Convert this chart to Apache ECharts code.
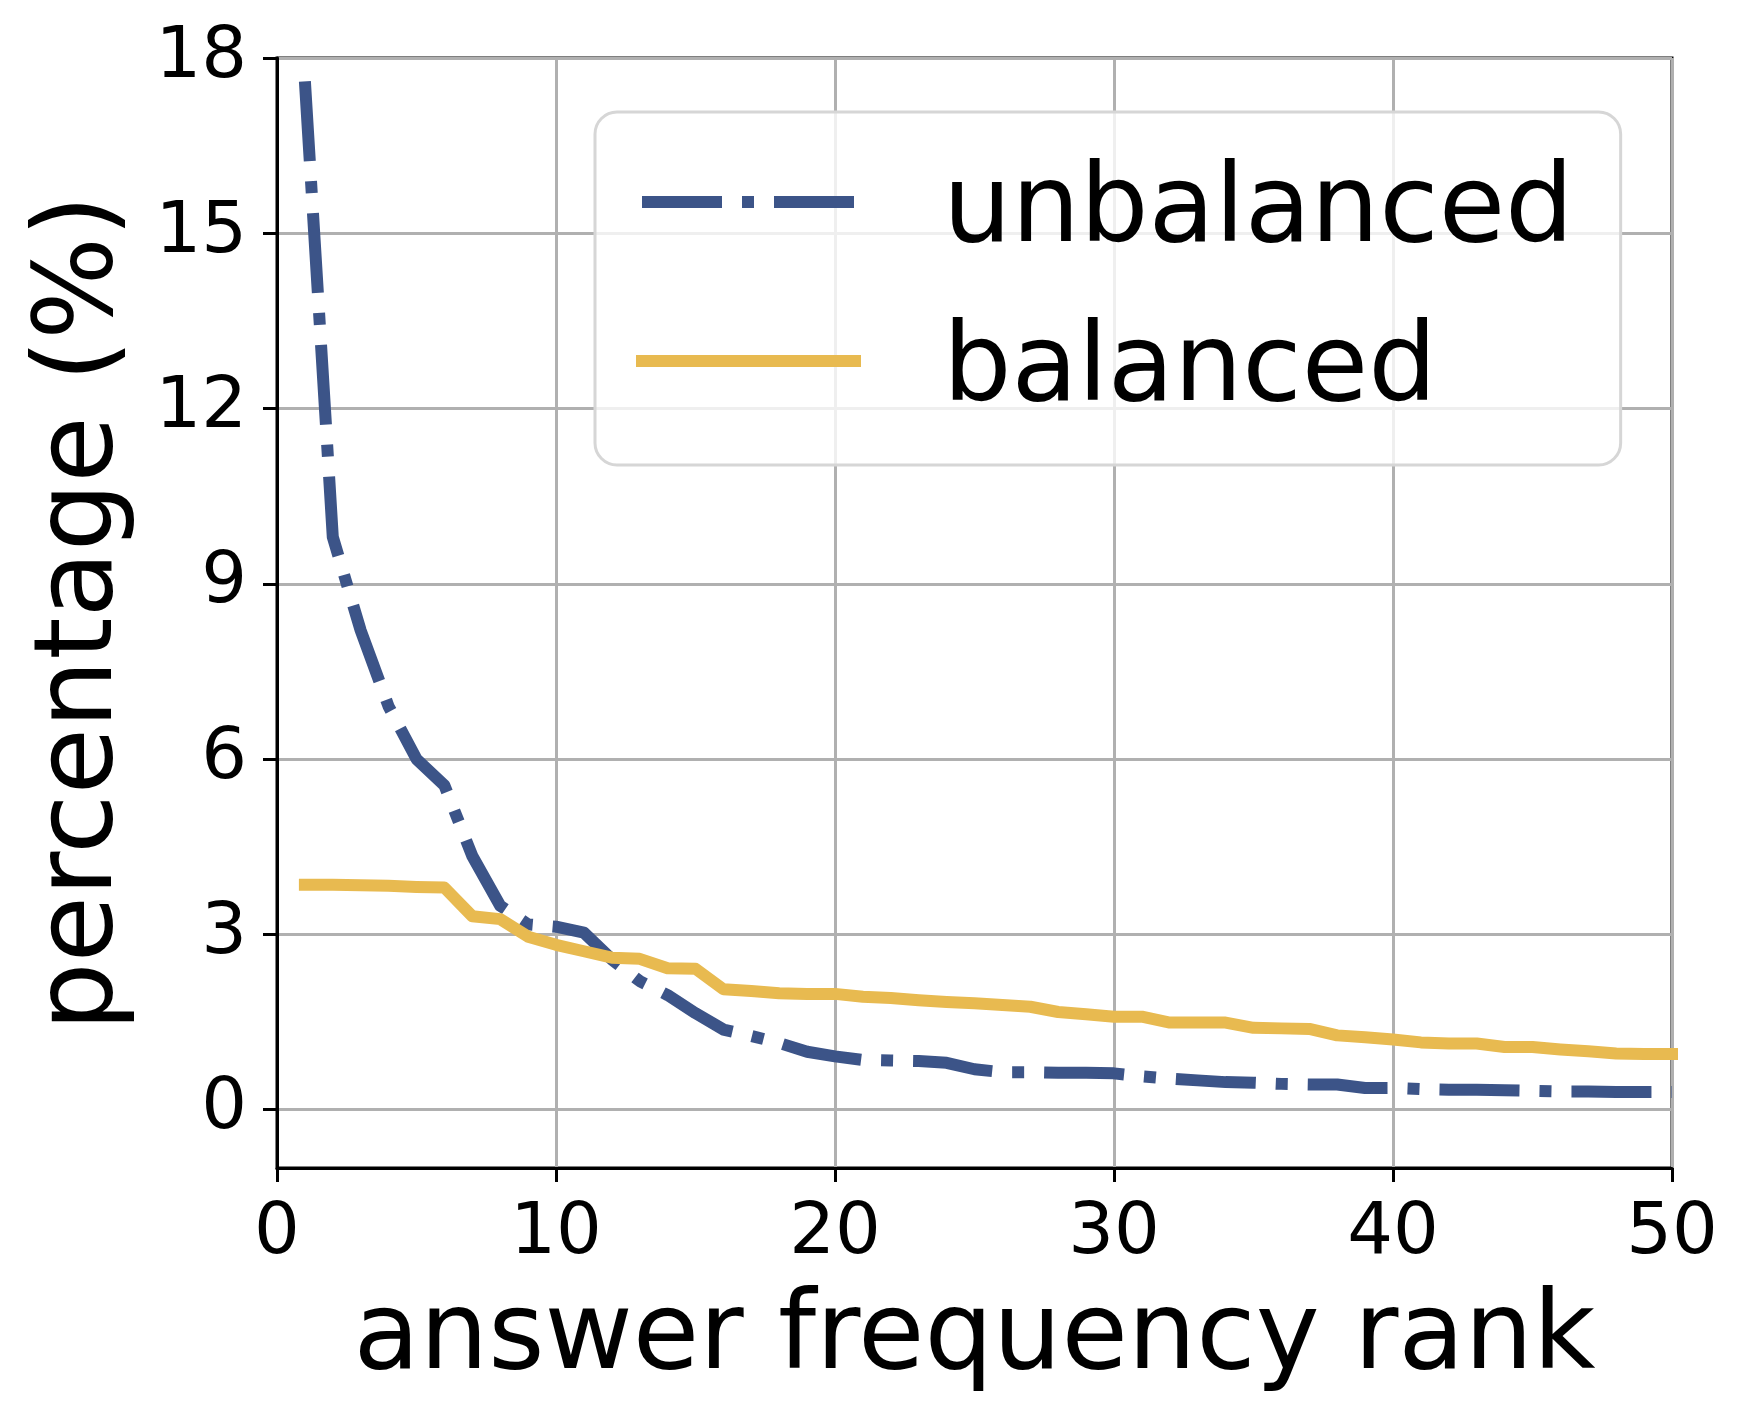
<!DOCTYPE html>
<html>
<head>
<meta charset="utf-8">
<script src="https://cdn.jsdelivr.net/npm/echarts@6/dist/echarts.min.js"></script>
<style>
html,body{margin:0;padding:0;background:#fff;}
#chart{width:1750px;height:1423px;}
</style>
</head>
<body>
<div id="chart"></div>
<script>
// 数据: 排名 1..50
var ranks = [1,2,3,4,5,6,7,8,9,10,11,12,13,14,15,16,17,18,19,20,21,22,23,24,25,
	26,27,28,29,30,31,32,33,34,35,36,37,38,39,40,41,42,43,44,45,46,47,48,49,50];
var unbalanced = [17.6,9.8,8.2,6.9,6.0,5.55,4.34,3.49,3.17,3.13,3.03,2.57,2.2,1.96,1.65,1.37,1.26,1.14,0.99,0.91,
	0.85,0.84,0.83,0.80,0.69,0.64,0.64,0.63,0.63,0.62,0.57,0.53,0.50,0.47,0.46,0.44,0.43,0.43,0.37,0.37,
	0.35,0.34,0.34,0.33,0.32,0.31,0.31,0.30,0.30,0.30];
var balanced = [3.85,3.85,3.84,3.83,3.81,3.80,3.31,3.26,2.96,2.82,2.71,2.60,2.58,2.42,2.41,2.06,2.03,1.99,1.98,1.98,
	1.93,1.91,1.87,1.84,1.82,1.79,1.76,1.67,1.63,1.59,1.59,1.49,1.49,1.49,1.40,1.39,1.38,1.27,1.24,1.20,
	1.15,1.13,1.13,1.07,1.07,1.03,1.00,0.96,0.95,0.95];
var yTicks = [0,3,6,9,12,15,18];
var seriesNames = ["unbalanced","balanced"];

function pairs(ys){
	var out = [];
	for(var i in ranks){
		out.push([ranks[i], ys[i]]);
	}
	return out;
}

var blue = "#3c5488";
var yellow = "#e8ba50";
var font = "DejaVu Sans";

var myChart = echarts.init(document.getElementById('chart'));
var option = {
	animation:false,
	backgroundColor:"#fff",
	textStyle:{fontFamily:font},
	grid:{
		left:277,
		top:58,
		width:1395,
		height:1110,
		show:true,
		borderColor:"#000",
		borderWidth:3,
		backgroundColor:"transparent"
	},
	//图例
	legend:{
		orient:"vertical",
		left:595,
		top:112,
		padding:[25,47,39,41],
		itemGap:29,
		itemWidth:213,
		itemHeight:30,
		backgroundColor:"rgba(255,255,255,0.8)",
		borderColor:"#d6d6d6",
		borderWidth:3,
		borderRadius:22,
		itemStyle:{color:"rgba(0,0,0,0)",borderColor:"rgba(0,0,0,0)",borderWidth:0},
		lineStyle:{width:12},
		formatter:function(name){
			return "{t|" + name + "}";
		},
		textStyle:{
			fontFamily:font,
			fontSize:108,
			color:"#000",
			padding:[0,0,0,83],
			rich:{
				t:{
					fontFamily:font,
					fontSize:108,
					lineHeight:120,
					color:"#000",
					padding:[22,0,0,0]
				}
			}
		},
		data:seriesNames
	},
	xAxis:{
		type:"value",
		min:0,
		max:50,
		interval:10,
		name:"answer frequency rank",
		nameLocation:"middle",
		nameGap:118,
		nameTextStyle:{fontFamily:font,fontSize:108,color:"#000"},
		axisLine:{show:true,onZero:false,lineStyle:{color:"#000",width:3}},
		axisTick:{show:true,length:14,lineStyle:{color:"#000",width:3}},
		axisLabel:{fontFamily:font,fontSize:72,color:"#000",margin:30},
		splitLine:{show:true,lineStyle:{color:"#b0b0b0",width:3}}
	},
	yAxis:{
		type:"value",
		min:-1,
		max:18,
		name:"percentage (%)",
		nameLocation:"middle",
		nameRotate:90,
		nameGap:140,
		nameTextStyle:{fontFamily:font,fontSize:108,color:"#000"},
		axisLine:{show:true,onZero:false,lineStyle:{color:"#000",width:3}},
		axisTick:{show:true,length:14,customValues:yTicks,lineStyle:{color:"#000",width:3}},
		axisLabel:{fontFamily:font,fontSize:72,color:"#000",margin:30,customValues:yTicks},
		splitLine:{show:true,lineStyle:{color:"#b0b0b0",width:3}}
	},
	series:[{
		name:seriesNames[0],
		type:"line",
		data:pairs(unbalanced),
		symbol:"none",
		color:blue,
		lineStyle:{color:blue,width:12,type:[80,20,12,20],cap:"butt",join:"round"}
	},{
		name:seriesNames[1],
		type:"line",
		data:pairs(balanced),
		symbol:"none",
		color:yellow,
		lineStyle:{color:yellow,width:12,type:"solid",cap:"square",join:"round"}
	}]
};
myChart.setOption(option);
</script>
</body>
</html>
